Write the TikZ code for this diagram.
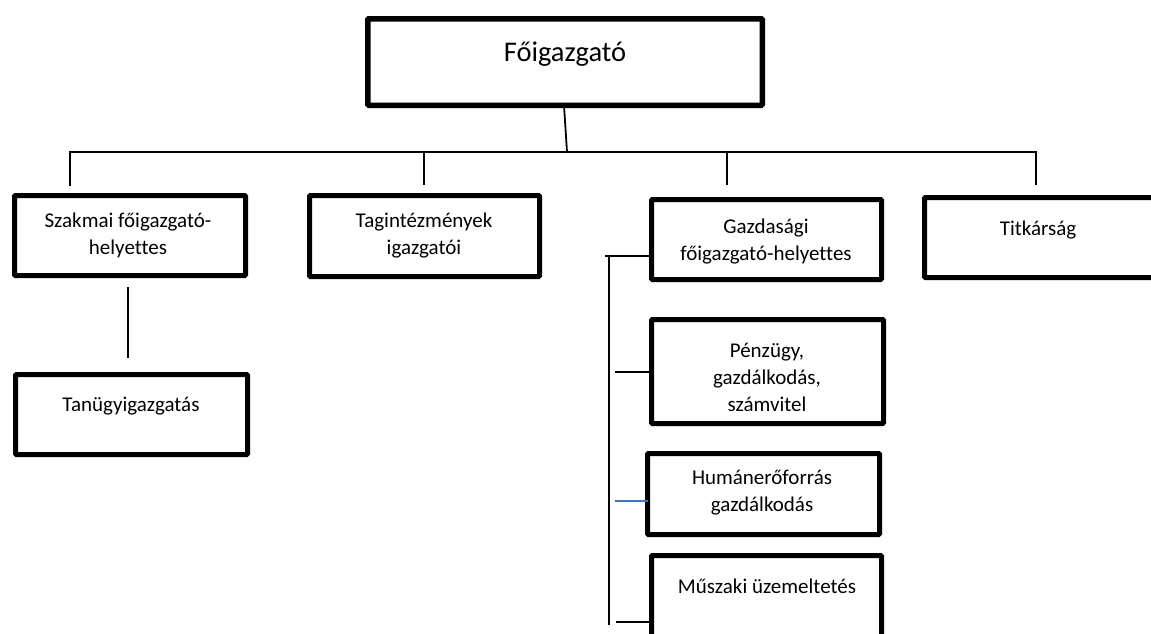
\documentclass[tikz,border=0pt]{standalone}
\usepackage{fontspec}
\setmainfont{Carlito}[Ligatures={NoCommon}]
\newcommand{\mlines}[1]{\begin{tabular}[t]{@{}c@{}}#1\end{tabular}}
\definecolor{connblue}{RGB}{68,114,196}
\begin{document}
\begin{tikzpicture}[x=1pt,y=-1pt,
  box/.style={draw=black, line width=5pt, rounded corners=1pt, inner sep=0pt, outer sep=0pt},
  lbl/.style={anchor=base, inner sep=0pt, font=\fontsize{21}{27}\selectfont},
  conn/.style={line width=1.8pt}]
\useasboundingbox (0,0) rectangle (1151,633);

% boxes
\node[box, line width=5.5pt, minimum width=394.5pt, minimum height=86.5pt] (F) at (565,62) {};
\node[box, minimum width=231pt, minimum height=80pt] (SZ) at (130,235.5) {};
\node[box, minimum width=232pt, minimum height=80pt] (TU) at (131.5,414.5) {};
\node[box, minimum width=230pt, minimum height=81pt] (TI) at (424.5,236) {};
\node[box, minimum width=230pt, minimum height=80pt] (GA) at (766.5,239.5) {};
\node[box, minimum width=233pt, minimum height=80pt] (TK) at (1041,237.5) {};
\node[box, minimum width=232pt, minimum height=104pt] (PE) at (767.5,371.5) {};
\node[box, minimum width=232pt, minimum height=81pt] (HU) at (763.5,494) {};
\node[box, minimum width=230pt, minimum height=102pt] (MU) at (766.5,606.5) {};

% texts
\node[lbl, font=\fontsize{28.5}{34}\selectfont] (Ft) at (565,61) {Főigazgató};
\node[lbl] (SZt) at (128,227) {\mlines{Szakmai főigazgató-\\helyettes}};
\node[lbl] (TUt) at (131,411) {Tanügyigazgatás};
\node[lbl] (TIt) at (424,227) {\mlines{Tagintézmények\\igazgatói}};
\node[lbl] (GAt) at (766,233) {\mlines{Gazdasági\\főigazgató-helyettes}};
\node[lbl] (TKt) at (1038,235) {Titkárság};
\node[lbl] (PEt) at (767,357) {\mlines{Pénzügy,\\gazdálkodás,\\számvitel}};
\node[lbl] (HUt) at (762,484) {\mlines{Humánerőforrás\\gazdálkodás}};
\node[lbl] (MUt) at (767,593) {Műszaki üzemeltetés};

% coordinates
\coordinate (bm) at (567,152);
\coordinate (b1) at (70,186);
\coordinate (b1t) at (70,152);
\coordinate (b2) at (424,185);
\coordinate (b2t) at (424,152);
\coordinate (b3) at (727,185);
\coordinate (b3t) at (727,152);
\coordinate (b4) at (1036,185);
\coordinate (b4t) at (1036,152);
\coordinate (s1) at (128,287);
\coordinate (s2) at (128,358);
\coordinate (g1) at (605,256);
\coordinate (gv1) at (609,256);
\coordinate (gv2) at (609,625);
\coordinate (p1) at (615,372);
\coordinate (h1) at (615,501);
\coordinate (m1) at (616,622);

% connectors
\draw[conn] ([xshift=-1pt]F.south) -- (bm);
\draw[conn] (b1) -- (b1t) -- (b4t) -- (b4);
\draw[conn] (b2t) -- (b2);
\draw[conn] (b3t) -- (b3);
\draw[conn] (s1) -- (s2);
\draw[conn] (g1) -- (g1 -| GA.west);
\draw[conn] (gv1) -- (gv2);
\draw[conn] (p1) -- (p1 -| PE.west);
\draw[line width=1.3pt, draw=connblue] (h1) -- (h1 -| HU.west);
\draw[conn] (m1) -- (m1 -| MU.west);
\end{tikzpicture}
\end{document}
